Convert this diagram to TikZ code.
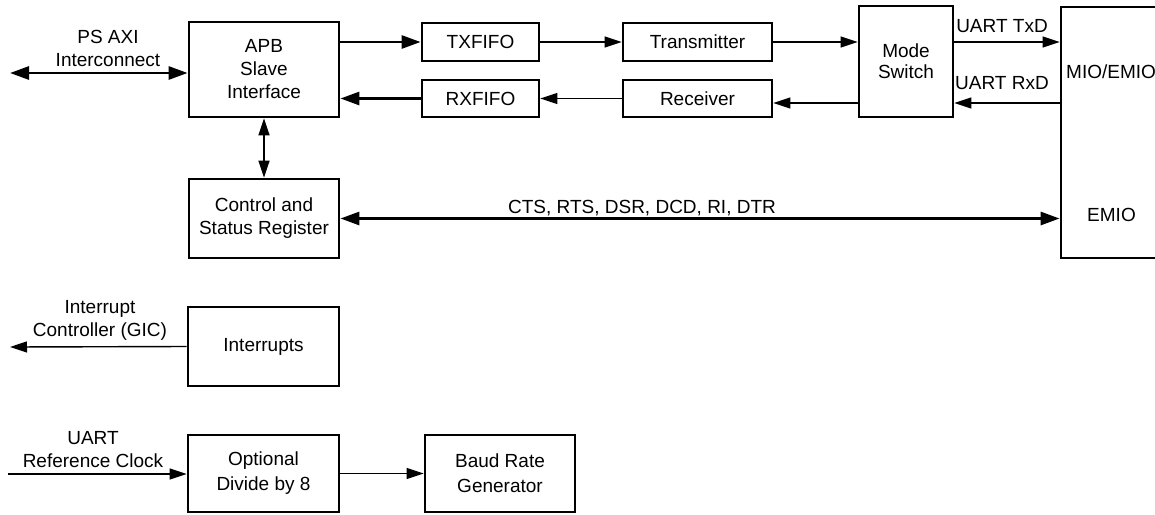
\documentclass[tikz,border=0pt]{standalone}
\usepackage{fontspec}
\setmainfont{Liberation Sans}
\usetikzlibrary{arrows.meta}
\newcommand\fs{\fontsize{19}{23}\selectfont}
\begin{document}
\begin{tikzpicture}[x=1pt,y=-1pt,
  blk/.style={draw,line width=2.8pt,inner sep=0pt,align=center,font=\fs},
  lbl/.style={inner sep=0pt,align=center,font=\fs},
  thinarr/.style={line width=1.4pt,-{Triangle[length=17pt,width=11pt]}},
  thickarr/.style={line width=2.8pt,-{Triangle[length=19pt,width=13pt]}},
  thinboth/.style={line width=1.6pt,{Triangle[length=17pt,width=11pt]}-{Triangle[length=17pt,width=11pt]}},
  thickboth/.style={line width=2.8pt,{Triangle[length=19pt,width=13pt]}-{Triangle[length=19pt,width=13pt]}}]
\useasboundingbox (0,0) rectangle (1155,514);
\clip (0,0) rectangle (1155,514);
% blocks
\node[blk,minimum width=150pt,minimum height=95pt] (apb) at (264,69.5) {APB\\Slave\\Interface};
\node[blk,minimum width=117pt,minimum height=38pt] (txf) at (480.5,42) {TXFIFO};
\node[blk,minimum width=149pt,minimum height=38pt] (tx) at (697.5,42) {Transmitter};
\node[blk,minimum width=117pt,minimum height=37pt] (rxf) at (480.5,98.5) {RXFIFO};
\node[blk,minimum width=149pt,minimum height=37pt] (rx) at (697.5,98.5) {Receiver};
\node[blk,minimum width=94pt,minimum height=111pt,font=\fontsize{19}{21}\selectfont] (mode) at (906,61.5) {Mode\\Switch};
\node[blk,minimum width=200pt,minimum height=251pt] (mio) at (1161,132.5) {};
\node[lbl,anchor=west] (miot) at (1066,72) {MIO/EMIO};
\node[lbl,anchor=west] (emiot) at (1087,215) {EMIO};
\node[blk,minimum width=150pt,minimum height=79pt] (csr) at (264,218.5) {Control and\\Status Register};
\node[blk,minimum width=151pt,minimum height=79pt] (int) at (263.5,346.5) {Interrupts};
\node[blk,minimum width=151pt,minimum height=77pt,font=\fontsize{19}{25}\selectfont] (opt) at (263.5,473.5) {Optional\\Divide by 8};
\node[blk,minimum width=150pt,minimum height=77pt,font=\fontsize{19}{25}\selectfont] (baud) at (500,473.5) {Baud Rate\\Generator};
% free ends
\coordinate (psl) at (10,73);
\coordinate (gic) at (10,347);
\coordinate (clk) at (8,474);
\coordinate (ry) at (0,103);
% labels
\node[lbl] (pslbl) at (108,48) {PS AXI\\Interconnect};
\node[lbl] (giclbl) at (100,320.5) {Interrupt\\Controller (GIC)};
\node[lbl] (clklbl) at (93,450) {UART\\Reference Clock};
\node[lbl] (txdlbl) at (1002,26) {UART TxD};
\node[lbl] (rxdlbl) at (1002,83) {UART RxD};
\node[lbl] (ctslbl) at (642,208) {CTS, RTS, DSR, DCD, RI, DTR};
% connectors
\draw[thickboth] (psl) -- (apb.west |- psl);
\draw[thickarr] (apb.east |- txf.west) -- (txf.west);
\draw[thinarr] (txf) -- (tx);
\draw[thinarr] (tx.east) -- (mode.west |- tx.east);
\draw[thinarr] (mode.east |- tx.east) -- (mio.west |- tx.east);
\draw[thinarr] (mio.west |- ry) -- (mode.east |- ry);
\draw[thinarr] (mode.west |- ry) -- (rx.east |- ry);
\draw[thinarr] (rx) -- (rxf);
\draw[thickarr] (rxf.west) -- (apb.east |- rxf.west);
\draw[thinboth] (apb.south) -- (csr.north);
\draw[thickboth] (csr.east) -- (mio.west |- csr.east);
\draw[thinarr] (int.west) -- (gic);
\draw[thinarr] (clk) -- (opt.west |- clk);
\draw[thinarr] (opt) -- (baud);
\end{tikzpicture}
\end{document}
